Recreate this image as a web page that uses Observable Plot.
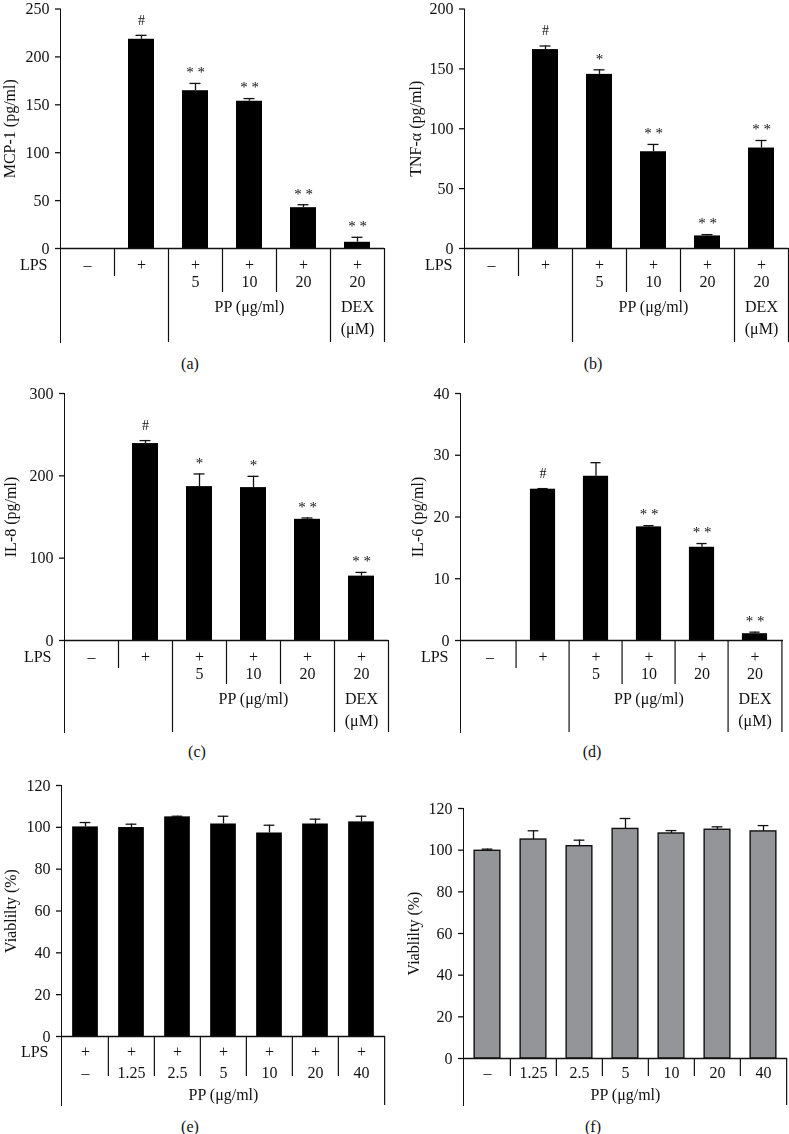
<!DOCTYPE html>
<html><head><meta charset="utf-8">
<script src="https://cdn.jsdelivr.net/npm/d3@7"></script>
<script src="https://cdn.jsdelivr.net/npm/@observablehq/plot@0.6"></script>
<style>
body{margin:0;background:#fff;}
#fig{position:relative;width:789px;height:1134px;font-family:"Liberation Serif",serif;color:#111;}
#fig svg{position:absolute;overflow:visible;will-change:transform;}
#fig g[aria-label^="y-axis"] path, #fig g[aria-label^="y-axis"] line{stroke-width:1.3px;}
.cap{position:absolute;font-size:16px;transform:translate(-50%,-50%);white-space:nowrap;}
</style></head><body><div id="fig"></div>
<script>
// ---------- data ----------
const groups6 = ["ctrl", "lps", "pp5", "pp10", "pp20", "dex"];
const lpsRow6 = ["–", "+", "+", "+", "+", "+"];
const doseRow6 = ["", "", "5", "10", "20", "20"];
const groupLabels6 = [{at: "pp10", text: "PP (μg/ml)", row: 0}, {at: "dex", text: "DEX", row: 0}, {at: "dex", text: "(μM)", row: 1}];

const mcp1 = [0, 218.4, 164.7, 153.7, 42.6, 6.5];
const mcp1Err = [0, 4.1, 7.6, 2.8, 3.1, 5.2];
const mcp1Sig = ["", "#", "**", "**", "**", "**"];
const mcp1Ticks = [0, 50, 100, 150, 200, 250];

const tnf = [0, 166.1, 145.4, 80.8, 10.5, 83.9];
const tnfErr = [0, 3.0, 3.8, 6.1, 1.1, 6.3];
const tnfSig = ["", "#", "*", "**", "**", "**"];
const tnfTicks = [0, 50, 100, 150, 200];

const il8 = [0, 239.2, 186.9, 185.7, 147.2, 78.2];
const il8Err = [0, 3.6, 15.4, 13.7, 1.6, 4.5];
const il8Sig = ["", "#", "*", "*", "**", "**"];
const il8Ticks = [0, 100, 200, 300];

const il6 = [0, 24.5, 26.6, 18.4, 15.1, 1.1];
const il6Err = [0, 0.1, 2.2, 0.2, 0.6, 0.25];
const il6Sig = ["", "#", "", "**", "**", "**"];
const il6Ticks = [0, 10, 20, 30, 40];

const groups7 = ["c0", "c1.25", "c2.5", "c5", "c10", "c20", "c40"];
const lpsRow7 = ["+", "+", "+", "+", "+", "+", "+"];
const doseRow7 = ["–", "1.25", "2.5", "5", "10", "20", "40"];
const groupLabels7 = [{at: "c5", text: "PP (μg/ml)", row: 0}];
const viabTicks = [0, 20, 40, 60, 80, 100, 120];

const viabE = [100.2, 99.9, 105.0, 101.6, 97.3, 101.6, 102.6];
const viabEErr = [2.1, 1.6, 0.3, 3.7, 3.7, 2.3, 2.7];
const viabF = [99.7, 105.1, 101.9, 110.2, 108.0, 109.8, 109.0];
const viabFErr = [0.8, 4.2, 2.9, 5.0, 1.4, 1.4, 2.8];

// ---------- layout ----------
const INK = "#111";
const FS = 16;
const tableCyto = {lps: 16, dose: 33, group: [58, 80], seps: "cyto", short: 28, inner: 44};
const tableE = {lps: 15, dose: 36, group: [58], seps: "viab", inner: 40};
const tableF = {lps: null, dose: 14, group: [36], seps: "viab", inner: 18};

function sepList(kind, cats) {
  const n = cats.length;
  if (kind === "cyto") {
    return [
      {c: cats[1], side: -1, len: "short"},
      {c: cats[2], side: -1, len: "full"},
      {c: cats[3], side: -1, len: "inner"},
      {c: cats[4], side: -1, len: "inner"},
      {c: cats[5], side: -1, len: "full"},
      {c: cats[5], side: 1, len: "full"}
    ];
  }
  const out = cats.slice(1).map(c => ({c, side: -1, len: "inner"}));
  out.push({c: cats[n - 1], side: 1, len: "full"});
  return out;
}

function panel(g, d) {
  const cats = d.cats, n = cats.length;
  const step = (g.rightX - g.axisX) / n;
  const span = g.zeroY - g.topY;
  const u = px => -g.yMax * px / span;
  const yBottom = u(g.bottomY - g.zeroY);
  const t = d.table;
  const rows = cats.map((c, i) => ({c, v: d.values[i], e: d.errors[i], s: d.sig ? d.sig[i] : "",
    lps: d.lps ? d.lps[i] : "", dose: d.dose[i]}));
  const barInset = (step - 26) / 2, capInset = (step - 11) / 2;
  const seps = sepList(t.seps, cats);
  const lenU = s => s.len === "full" ? yBottom : s.len === "short" ? u(t.short) : u(t.inner);
  const marks = [
    Plot.barY(rows.filter(r => r.v > 0), {x: "c", y: "v", fill: d.fill, stroke: d.stroke || "none", strokeWidth: 1.4,
      insetLeft: barInset, insetRight: barInset}),
    Plot.ruleX(rows.filter(r => r.e > 0), {x: "c", y1: "v", y2: r => r.v + r.e, stroke: INK, strokeWidth: 1.3}),
    Plot.tickY(rows.filter(r => r.e > 0), {x: "c", y: r => r.v + r.e, stroke: INK, strokeWidth: 1.3,
      insetLeft: capInset, insetRight: capInset}),
    Plot.ruleY([0], {stroke: INK, strokeWidth: 1.3}),
    Plot.ruleX(seps.filter(s => s.side < 0), {x: "c", y1: 0, y2: lenU, dx: -step / 2, stroke: INK, strokeWidth: 1.2}),
    Plot.ruleX(seps.filter(s => s.side > 0), {x: "c", y1: 0, y2: lenU, dx: step / 2, stroke: INK, strokeWidth: 1.2}),
    Plot.text(rows.filter(r => r.s === "#"), {x: "c", y: r => r.v + r.e, text: "s", dy: -15, fontSize: 14, fill: INK}),
    Plot.text(rows.filter(r => r.s.startsWith("*")), {x: "c", y: r => r.v + r.e, text: r => r.s.split("").join(" "),
      dy: -11, fontSize: 15, fill: INK}),
    Plot.text(rows, {x: "c", y: () => 0, text: "dose", dy: t.dose, fontSize: FS, fill: INK}),
    Plot.text(d.groupLabels.filter(l => l.row === 0), {x: "at", y: () => 0, text: "text", dy: t.group[0], fontSize: FS, fill: INK}),
    Plot.text(d.groupLabels.filter(l => l.row === 1), {x: "at", y: () => 0, text: "text", dy: t.group[1] || 0, fontSize: FS, fill: INK}),
    Plot.text([d.ylabel], {frameAnchor: "left", y: () => g.yMax / 2, text: s => s, rotate: -90, dx: g.ylabDx,
      textAnchor: "middle", fontSize: FS, fill: INK})
  ];
  if (t.lps != null) {
    marks.push(Plot.text(rows, {x: "c", y: () => 0, text: "lps", dy: t.lps, fontSize: FS, fill: INK}));
    marks.push(Plot.text(["LPS"], {frameAnchor: "left", y: () => 0, text: s => s, dy: t.lps, dx: -g.lpsDx,
      textAnchor: "end", fontSize: FS, fill: INK}));
  }
  const svg = Plot.plot({
    width: g.W, height: g.H,
    marginLeft: g.axisX - g.L, marginRight: g.L + g.W - g.rightX,
    marginTop: g.topY - g.T, marginBottom: g.T + g.H - g.bottomY,
    style: {fontFamily: "Liberation Serif, serif", fontSize: FS + "px", color: INK, background: "transparent", overflow: "visible"},
    x: {type: "band", domain: cats, paddingInner: 0, paddingOuter: 0, axis: null},
    y: {domain: [yBottom, g.yMax], ticks: d.ticks, tickSize: 5, tickPadding: 6, line: true, label: null, tickFormat: v => String(v)},
    marks
  });
  svg.style.left = g.L + "px";
  svg.style.top = g.T + "px";
  document.getElementById("fig").appendChild(svg);
  const cap = document.createElement("div");
  cap.className = "cap";
  cap.textContent = d.caption;
  cap.style.left = g.capX + "px";
  cap.style.top = g.capY + "px";
  document.getElementById("fig").appendChild(cap);
}

panel({L: 0, T: 0, W: 392, H: 350, axisX: 60, rightX: 384, topY: 8.5, zeroY: 248, bottomY: 342, yMax: 250, ylabDx: -51, lpsDx: 13, capX: 190, capY: 364},
  {cats: groups6, values: mcp1, errors: mcp1Err, sig: mcp1Sig, lps: lpsRow6, dose: doseRow6, groupLabels: groupLabels6,
   ticks: mcp1Ticks, ylabel: "MCP-1 (pg/ml)", fill: "#000", table: tableCyto, caption: "(a)"});
panel({L: 396, T: 0, W: 393, H: 350, axisX: 464, rightX: 788, topY: 8.5, zeroY: 248, bottomY: 342, yMax: 200, ylabDx: -49, lpsDx: 12, capX: 593, capY: 364},
  {cats: groups6, values: tnf, errors: tnfErr, sig: tnfSig, lps: lpsRow6, dose: doseRow6, groupLabels: groupLabels6,
   ticks: tnfTicks, ylabel: "TNF-α (pg/ml)", fill: "#000", table: tableCyto, caption: "(b)"});
panel({L: 0, T: 380, W: 392, H: 360, axisX: 64, rightX: 388, topY: 393, zeroY: 640, bottomY: 732, yMax: 300, ylabDx: -54, lpsDx: 13, capX: 197, capY: 752},
  {cats: groups6, values: il8, errors: il8Err, sig: il8Sig, lps: lpsRow6, dose: doseRow6, groupLabels: groupLabels6,
   ticks: il8Ticks, ylabel: "IL-8 (pg/ml)", fill: "#000", table: tableCyto, caption: "(c)"});
panel({L: 396, T: 380, W: 393, H: 360, axisX: 460, rightX: 783, topY: 393, zeroY: 640, bottomY: 732, yMax: 40, ylabDx: -43, lpsDx: 12, capX: 592, capY: 752},
  {cats: groups6, values: il6, errors: il6Err, sig: il6Sig, lps: lpsRow6, dose: doseRow6, groupLabels: groupLabels6,
   ticks: il6Ticks, ylabel: "IL-6 (pg/ml)", fill: "#000", table: tableCyto, caption: "(d)"});
panel({L: 0, T: 770, W: 392, H: 345, axisX: 61, rightX: 385, topY: 785, zeroY: 1036, bottomY: 1105, yMax: 120, ylabDx: -51, lpsDx: 13, capX: 190, capY: 1127},
  {cats: groups7, values: viabE, errors: viabEErr, sig: null, lps: lpsRow7, dose: doseRow7, groupLabels: groupLabels7,
   ticks: viabTicks, ylabel: "Viablilty (%)", fill: "#000", table: tableE, caption: "(e)"});
panel({L: 396, T: 770, W: 393, H: 345, axisX: 463, rightX: 787, topY: 808, zeroY: 1058, bottomY: 1105, yMax: 120, ylabDx: -50, lpsDx: 12, capX: 593, capY: 1127},
  {cats: groups7, values: viabF, errors: viabFErr, sig: null, lps: null, dose: doseRow7, groupLabels: groupLabels7,
   ticks: viabTicks, ylabel: "Viablilty (%)", fill: "#939598", stroke: "#111", table: tableF, caption: "(f)"});
</script></body></html>
